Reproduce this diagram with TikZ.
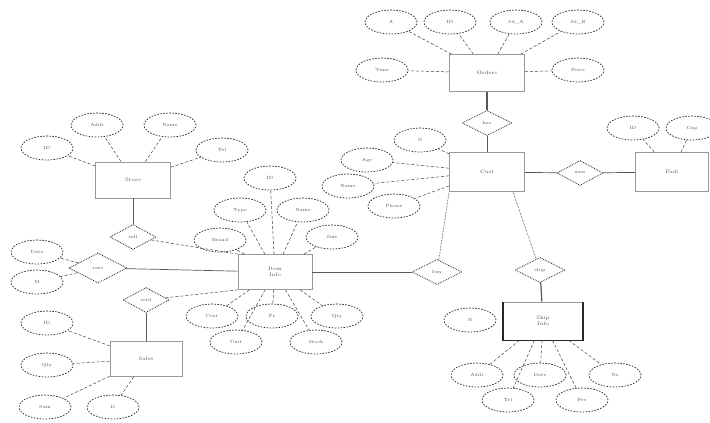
\documentclass[tikz,border=0pt]{standalone}
\usetikzlibrary{shapes.geometric}
\begin{document}
\begin{tikzpicture}[x=1pt,y=-1pt,
 ent/.style={draw=gray!80, line width=0.8pt, minimum width=75pt, minimum height=37pt, inner sep=0pt, font=\fontsize{5}{6}\selectfont, text=black!70},
 attr/.style={ellipse, draw=black!85, dash pattern=on 1.6pt off 1.4pt, line width=0.7pt, minimum width=52pt, minimum height=24pt, inner sep=0pt, font=\fontsize{4.5}{5}\selectfont, text=black!70},
 rel/.style={diamond, draw=black!85, densely dotted, line width=0.8pt, aspect=2, minimum width=50pt, minimum height=25pt, inner sep=0pt, font=\fontsize{4.5}{5}\selectfont, text=black!70},
 lk/.style={draw=black!75, densely dashed, line width=0.5pt},
 rl/.style={draw=black!65, line width=0.7pt}]
\useasboundingbox (0,0) rectangle (710,423);
\clip (0,0) rectangle (710,423);
% entities
\node[ent] (e1) at (487,73) {Orders};
\node[ent, minimum height=39pt] (e2) at (487,172) {Cust};
\node[ent, minimum height=39pt, minimum width=73pt] (e3) at (672,172) {Fadi};
\node[ent, minimum width=74pt, minimum height=35pt, align=center] (e4) at (275,272) {Item\\Info};
\node[ent, minimum height=36pt] (e5) at (133,180) {Store};
\node[ent, minimum width=72pt, minimum height=35pt] (e6) at (146,359) {Sales};
\node[ent, minimum width=79pt, minimum height=38pt, align=center] (e7) at (543,321) {Ship\\Info};
\draw[black!85, line width=1.3pt] (e7.north west) -- (e7.south west) -- (e7.south east) -- (e7.north east);
% relationships
\node[rel] (r1) at (487,123) {has};
\node[rel, minimum width=46pt] (r2) at (580,173) {uses};
\node[rel] (r3) at (437,272) {buy};
\node[rel] (r4) at (540,270) {ship};
\node[rel, minimum width=46pt] (r5) at (133,237) {sell};
\node[rel, minimum width=58pt, minimum height=30pt] (r6) at (98,268) {rate};
\node[rel, minimum width=46pt] (r7) at (146,300) {sold};
% attributes e1
\node[attr] (a1) at (391,22) {A};
\node[attr] (a2) at (450,22) {ID};
\node[attr] (a3) at (516,22) {Sd\_A};
\node[attr] (a4) at (578,22) {Sd\_B};
\node[attr] (a5) at (382,70) {Time};
\node[attr] (a6) at (578,70) {Price};
% attributes e2
\node[attr] (b1) at (420,140) {N};
\node[attr] (b2) at (367,160) {Age};
\node[attr] (b3) at (348,186) {Name};
\node[attr] (b4) at (394,206) {Phone};
% attributes e3
\node[attr] (c1) at (633,128) {ID};
\node[attr] (c2) at (692,128) {Cap};
% attributes e4
\node[attr] (d1) at (270,178) {ID};
\node[attr] (d2) at (240,210) {Type};
\node[attr] (d3) at (303,210) {Name};
\node[attr] (d4) at (220,240) {Brand};
\node[attr] (d5) at (332,237) {Size};
\node[attr] (d6) at (212,316) {Cost};
\node[attr] (d7) at (236,342) {Unit};
\node[attr] (d8) at (272,316) {Pr};
\node[attr] (d9) at (316,342) {Stock};
\node[attr] (d10) at (337,316) {Qty};
% attributes e5
\node[attr] (f1) at (47,148) {ID};
\node[attr] (f2) at (97,125) {Addr};
\node[attr] (f3) at (170,125) {Name};
\node[attr] (f4) at (222,150) {Tel};
% attributes r6
\node[attr] (g1) at (37,252) {Date};
\node[attr] (g2) at (37,282) {M};
% attributes e6
\node[attr] (h1) at (47,323) {ID};
\node[attr] (h2) at (47,365) {Qty};
\node[attr] (h3) at (45,407) {Sum};
\node[attr] (h4) at (113,407) {D};
% attributes e7
\node[attr] (k1) at (470,320) {N};
\node[attr] (k2) at (477,375) {Addr};
\node[attr] (k3) at (508,400) {Tel};
\node[attr] (k4) at (540,375) {Date};
\node[attr] (k5) at (582,400) {Fee};
\node[attr] (k6) at (615,375) {No};
% attribute links
\foreach \a in {a1,a2,a3,a4,a5,a6} \draw[lk] (e1) -- (\a);
\foreach \a in {b1,b2,b3,b4} \draw[lk] (e2) -- (\a);
\foreach \a in {c1,c2} \draw[lk] (e3) -- (\a);
\foreach \a in {d1,d2,d3,d4,d5,d6,d7,d8,d9,d10} \draw[lk] (e4) -- (\a);
\foreach \a in {f1,f2,f3,f4} \draw[lk] (e5) -- (\a);
\foreach \a in {g1,g2} \draw[lk] (r6) -- (\a);
\foreach \a in {h1,h2,h3,h4} \draw[lk] (e6) -- (\a);
\foreach \a in {k2,k3,k4,k5,k6} \draw[lk] (e7) -- (\a);
% relationship links
\draw[rl, line width=1.2pt] (e1) -- (r1);
\draw[rl] (r1) -- (e2);
\draw[rl] (e2) -- (r2);
\draw[rl] (r2) -- (e3);
\draw[rl] (e4) -- (r3);
\draw[lk, densely dotted, line width=0.8pt] (r3) -- (e2.south west);
\draw[lk, densely dotted, line width=0.8pt] (e2.south east) ++(-12pt,0) coordinate (e2r) (e2r) -- (r4);
\draw[rl, line width=1.2pt] (r4) -- (e7);
\draw[rl] (e5) -- (r5);
\draw[lk] (r5) -- (e4.north west);
\draw[rl] (r6) -- (e4);
\draw[lk] (r7) -- (e4.south west);
\draw[rl] (r7) -- (e6);
\end{tikzpicture}
\end{document}
